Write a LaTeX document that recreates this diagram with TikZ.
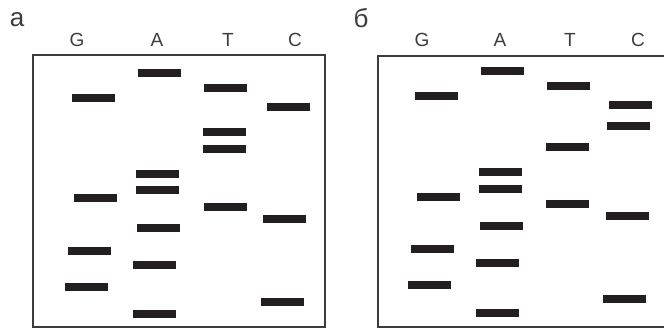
\documentclass[tikz,border=0pt]{standalone}
\usepackage{fontspec}
\setmainfont{Liberation Sans}
\definecolor{bandblack}{HTML}{231F20}
\definecolor{framegray}{HTML}{3C3C3C}

\begin{document}
\begin{tikzpicture}[x=1pt, y=-1pt,
    band/.style={fill=bandblack},
    frame/.style={draw=framegray, line width=1.8pt},
    lane/.style={font=\fontsize{19}{19}\selectfont, text=framegray},
    panel/.style={font=\fontsize{26}{26}\selectfont, text=framegray}]
    \useasboundingbox (0,0) rectangle (664,329);
    \clip (0,0) rectangle (664,329);

    % Draw gel frames
    \draw[frame] (33,55) rectangle (325,327);
    \draw[frame] (378,56) rectangle (680,327);

    % Panel labels
    \node[panel] (pa) at (17,20) {а};
    \node[panel] (pb) at (361,18) {б};

    % Lane labels
    \foreach \p/\l/\x in {a/G/77, a/A/157, a/T/228, a/C/295, b/G/422, b/A/500, b/T/570, b/C/638} {
      \node[lane] (\p\l) at (\x,40) {\l};
    }

    % Bands of panel a
    \foreach \x/\y in {93/98, 95.5/198, 89/251, 86.5/287,
                       159/73, 157/174, 157/190, 158/228, 154.5/265, 154.5/314,
                       225/88, 224/132, 224/149, 225.5/207,
                       288/107, 284.5/219, 282/302} {
      \fill[band] (\x-21.5,\y-4) rectangle (\x+21.5,\y+4);
    }

    % Bands of panel b
    \foreach \x/\y in {436/96, 438/197, 432.5/249, 429/285,
                       502/71, 500/172, 500/189, 501.5/226, 497/263, 497/313,
                       568/86, 567.5/147, 567.5/204,
                       630.5/105, 628/126, 627/216, 624/299} {
      \fill[band] (\x-21.5,\y-4) rectangle (\x+21.5,\y+4);
    }

\end{tikzpicture}
\end{document}
